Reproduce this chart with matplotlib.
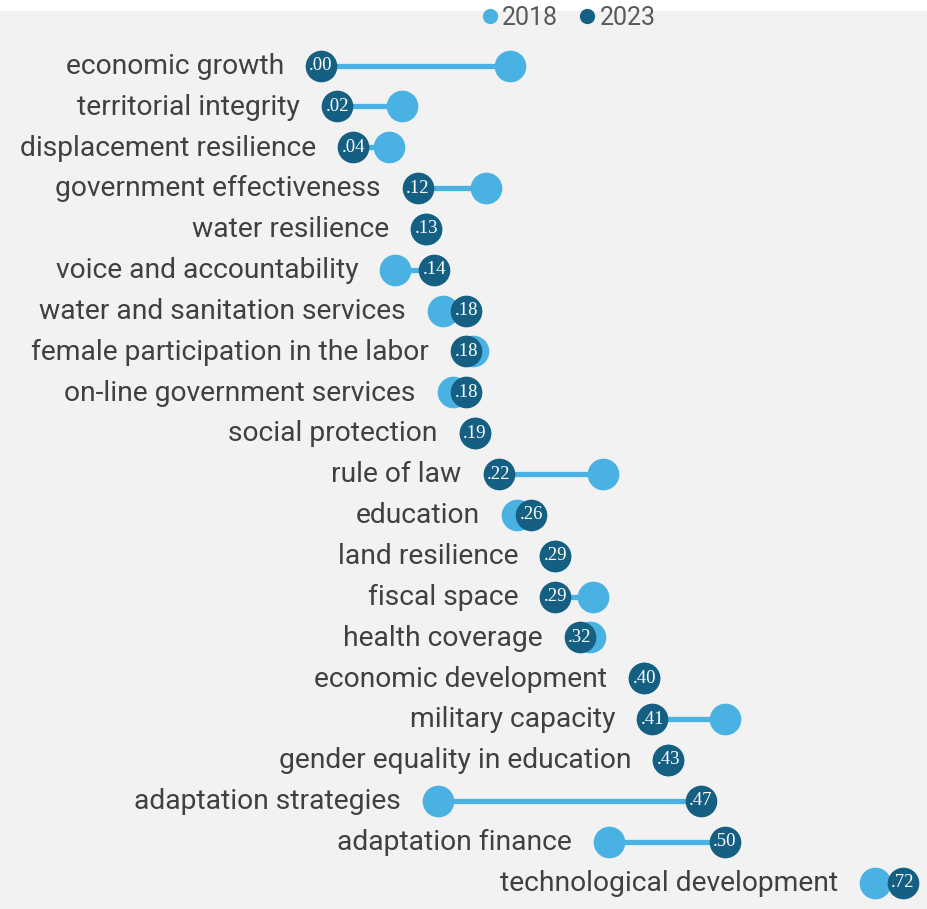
import numpy as np
import matplotlib.pyplot as plt
from matplotlib.lines import Line2D
from matplotlib.patches import Rectangle

# Indicator names, top to bottom
indicators = [
    "economic growth",
    "territorial integrity",
    "displacement resilience",
    "government effectiveness",
    "water resilience",
    "voice and accountability",
    "water and sanitation services",
    "female participation in the labor",
    "on-line government services",
    "social protection",
    "rule of law",
    "education",
    "land resilience",
    "fiscal space",
    "health coverage",
    "economic development",
    "military capacity",
    "gender equality in education",
    "adaptation strategies",
    "adaptation finance",
    "technological development",
]
score_2023 = [0.00, 0.02, 0.04, 0.12, 0.13, 0.14, 0.18, 0.18, 0.18, 0.19, 0.22,
              0.26, 0.29, 0.29, 0.32, 0.40, 0.41, 0.43, 0.47, 0.50, 0.72]
score_2018 = [0.234, 0.100, 0.084, 0.204, 0.130, 0.092, 0.151, 0.188, 0.163, 0.190, 0.349,
              0.243, 0.290, 0.337, 0.333, 0.400, 0.500, 0.430, 0.145, 0.356, 0.686]

c18 = "#49b2e2"
c23 = "#156082"
txt = "#404040"

W, H, DPI = 928, 909, 100
fig = plt.figure(figsize=(W / DPI, H / DPI), dpi=DPI, facecolor="white")
fig.patches.append(Rectangle((0, 0), 1, (H - 11) / H, transform=fig.transFigure,
                             facecolor="#f2f2f2", edgecolor="none", zorder=-10))

ax = fig.add_axes([0, 0, 1, 1])
ax.set_facecolor("none")
px_per_unit = 808.0
x0 = 321.0
row_h = 40.85
y0 = 65.5
ax.set_xlim(-x0 / px_per_unit, (W - x0) / px_per_unit)
ax.set_ylim((H - y0) / row_h, -y0 / row_h)
ax.axis("off")

for i, name in enumerate(indicators):
    a, b = score_2018[i], score_2023[i]
    ax.plot([a, b], [i, i], color=c18, lw=3.8, solid_capstyle="butt", zorder=1)
    ax.plot(a, i, "o", ms=22.8, color=c18, mec="none", zorder=2)
    ax.plot(b, i, "o", ms=22.8, color=c23, mec="none", zorder=3)
    ax.text(b, i, f".{int(round(b * 100)):02d}", color="white", ha="center", va="center",
            fontsize=13.5, family="Liberation Serif", zorder=4)
    ax.text(min(a, b) - 0.046, i + 0.02, name, ha="right", va="center", color=txt,
            fontsize=20.3, family="Roboto")

handles = [
    Line2D([], [], ls="none", marker="o", ms=11, color=c18, mec="none"),
    Line2D([], [], ls="none", marker="o", ms=11, color=c23, mec="none"),
]
fig.legend(handles, ["2018", "2023"], loc="center", bbox_to_anchor=(567.5 / W, 1 - 18 / H),
           ncol=2, frameon=False, handletextpad=0.1, columnspacing=0.76,
           handlelength=0.8, prop={"family": "Roboto", "size": 18}, labelcolor="#595959")

fig.savefig("out.png", dpi=DPI)
